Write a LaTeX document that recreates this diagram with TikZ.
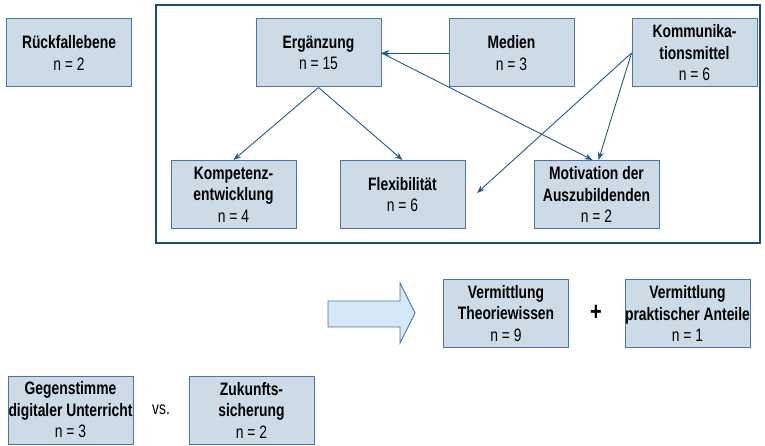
\documentclass[tikz,border=0pt]{standalone}
\usepackage{fontspec}
\setmainfont{Liberation Sans}[FakeStretch=0.77]
\usepackage{tikz}
\usetikzlibrary{arrows.meta, positioning}
\definecolor{boxfill}{RGB}{205,219,231}
\definecolor{boxline}{RGB}{72,118,165}
\definecolor{linkblue}{RGB}{31,90,140}
\definecolor{framblue}{RGB}{25,75,125}
\definecolor{bigarrow}{RGB}{214,232,245}

\begin{document}
\begin{tikzpicture}[
                        x=1pt, y=-1pt,
                        every node/.style={font=\fontsize{18}{21.5}\selectfont},
                        catbox/.style={rectangle, draw=boxline, fill=boxfill, line width=1pt,
                                       align=center, inner sep=0pt,
                                       minimum width=125pt, minimum height=68pt},
                        link/.style={draw=linkblue, line width=0.9pt,
                                     -{Stealth[length=8pt,width=6pt]}}
                        ]
                      \useasboundingbox (0,0) rectangle (765,446);

                      \draw[framblue, line width=2pt] (156,5) rectangle (760,243);

                      \node[catbox] (rueck) at (69,53) {\textbf{Rückfallebene}\\n = 2};
                      \node[catbox] (erg) at (318.5,53) {\textbf{Ergänzung}\\n = 15};
                      \node[catbox] (medien) at (511.5,53) {\textbf{Medien}\\n = 3};
                      \node[catbox] (komm) at (694.5,53) {\textbf{Kommunika-}\\\textbf{tionsmittel}\\n = 6};
                      \node[catbox] (kompetenz) at (233.5,194.5) {\textbf{Kompetenz-}\\\textbf{entwicklung}\\n = 4};
                      \node[catbox] (flex) at (402.5,194.5) {\textbf{Flexibilität}\\n = 6};
                      \node[catbox] (motiv) at (596.5,194.5) {\textbf{Motivation der}\\\textbf{Auszubildenden}\\n = 2};
                      \coordinate (flexend) at (477,193);

                      \draw[link] (medien.west) -- (erg.east);
                      \draw[link] (erg.south) -- (kompetenz.north);
                      \draw[link] (erg.south) -- (flex.north);
                      \draw[link] (erg.east) -- ([xshift=-4pt]motiv.north);
                      \draw[link] (komm.west) -- ([xshift=2pt]motiv.north);
                      \draw[link] (komm.west) -- (flexend);

                      \draw[draw=boxline, fill=bigarrow, line width=0.9pt]
                        (328,301) -- (400,301) -- (400,283) -- (415,313) -- (400,343)
                        -- (400,327) -- (328,327) -- cycle;

                      \node[catbox] (theorie) at (506,313.5) {\textbf{Vermittlung}\\\textbf{Theoriewissen}\\n = 9};
                      \node[font=\fontsize{26}{26}\selectfont\bfseries] (plus) at (596,313) {+};
                      \node[catbox] (praxis) at (687.5,313.5) {\textbf{Vermittlung}\\\textbf{praktischer Anteile}\\n = 1};

                      \node[catbox] (gegen) at (70.5,410) {\textbf{Gegenstimme}\\\textbf{digitaler Unterricht}\\n = 3};
                      \node (vs) at (161,410) {vs.};
                      \node[catbox] (zukunft) at (251.5,410) {\textbf{Zukunfts-}\\\textbf{sicherung}\\n = 2};
                      \end{tikzpicture}
\end{document}
